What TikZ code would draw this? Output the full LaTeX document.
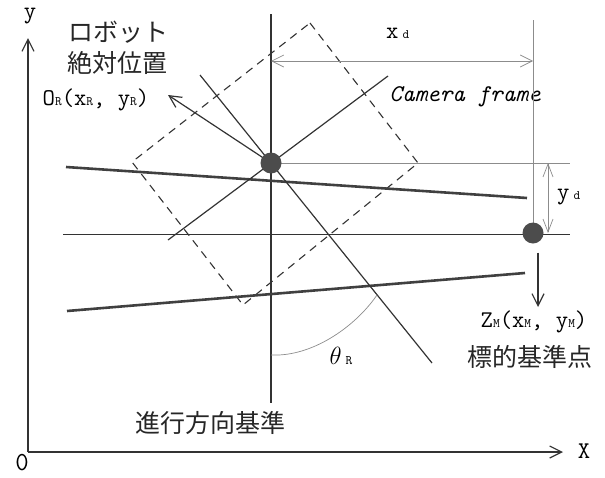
\documentclass[tikz,border=0pt]{standalone}
\usepackage{fontspec}
\newfontfamily\jafont{Noto Sans CJK JP}
\usetikzlibrary{arrows.meta}
\newcommand{\smallidx}[1]{{\fontsize{13}{13}\selectfont #1}}

\begin{document}
\begin{tikzpicture}[x=1pt,y=-1pt,>={Straight Barb[length=12pt,width=12pt]},
  darkline/.style={black!80,line width=1.2pt},
  greyline/.style={black!45,line width=0.7pt},
  lane/.style={black!75,line width=2.6pt},
  dot/.style={circle,fill=black!70,inner sep=0pt,minimum size=21pt},
  ja/.style={font=\jafont\fontsize{25}{28}\selectfont,text=black!85},
  lbl/.style={font=\ttfamily\fontsize{24}{26}\selectfont,text=black,inner sep=1pt},
  axlbl/.style={font=\ttfamily\fontsize{24}{26}\selectfont,text=black,inner sep=1pt}]
  \useasboundingbox (0,0) rectangle (605,477);
  % axes
  \coordinate (o) at (28,452);
  \coordinate (ytip) at (28,38);
  \coordinate (xtip) at (563,452);
  \draw[darkline,->] (o) -- (ytip);
  \draw[darkline,->] (o) -- (xtip);
  \node[axlbl] (ylab) at (30,16) {y};
  \node[axlbl] (xlab) at (584,451) {X};
  \node[axlbl,font=\ttfamily\fontsize{26}{28}\selectfont,inner sep=0pt] (olab) at (22,463) {0};
  % camera frame
  \coordinate (c1) at (310,23);
  \coordinate (c2) at (418,163);
  \coordinate (c3) at (243,305);
  \coordinate (c4) at (132,162);
  \draw[black!80,line width=1.1pt,dash pattern=on 8pt off 6pt] (c1) -- (c2) -- (c3) -- (c4) -- cycle;
  \node[lbl,font=\ttfamily\itshape\fontsize{24}{26}\selectfont] (cam) at (465,97) {Camera frame};
  % reference lines
  \coordinate (vtop) at (271,14);
  \coordinate (vbot) at (271,403);
  \draw[darkline] (vtop) -- (vbot);
  \coordinate (hl) at (63,234);
  \coordinate (hr) at (570,234);
  \draw[darkline,line width=1pt] (hl) -- (hr);
  \coordinate (rr) at (570,163);
  \draw[greyline] (271,163) -- (rr);
  \coordinate (mtop) at (533,20);
  \draw[greyline] (mtop) -- (533,233);
  % lanes
  \coordinate (l1) at (66,167);
  \coordinate (l2) at (527,198);
  \coordinate (l3) at (67,311);
  \coordinate (l4) at (525,273);
  \draw[lane] (l1) -- (l2);
  \draw[lane] (l3) -- (l4);
  % robot axes
  \coordinate (h1) at (200,75);
  \coordinate (h2) at (432,363);
  \draw[darkline] (h1) -- (h2);
  \coordinate (p1) at (168,240);
  \coordinate (p2) at (388,76);
  \draw[darkline] (p1) -- (p2);
  \coordinate (otip) at (168,95);
  \draw[darkline,->] (271,163) -- (otip);
  % heading angle
  \coordinate (t1) at (271,355);
  \coordinate (t2) at (377,295);
  \draw[greyline] (t1) .. controls (312,357) and (355,327) .. (t2);
  \node[lbl] (theta) at (341,356) {$\theta$\,\smallidx{R}};
  % points
  \node[dot] (robot) at (271,163) {};
  \node[dot] (target) at (533,233) {};
  % distances
  \coordinate (xda) at (271,61);
  \coordinate (xdb) at (533,61);
  \draw[greyline,<->] (xda) -- (xdb);
  \node[lbl,anchor=west] (xd) at (385,33) {x\,\smallidx{d}};
  \coordinate (yda) at (548,163);
  \coordinate (ydb) at (548,233);
  \draw[greyline,{Straight Barb[length=13pt,width=10pt]}-{Straight Barb[length=13pt,width=10pt]}] (yda) -- (ydb);
  \node[lbl,anchor=west] (yd) at (556,197) {y\,\smallidx{d}};
  \coordinate (zdown) at (538,307);
  \draw[darkline,->] ([shift={(5,9)}]target.south) -- (zdown);
  % labels
  \node[lbl] (zlab) at (534,322) {Z\smallidx{M}(x\smallidx{M}, y\smallidx{M})};
  \node[ja] (zja) at (530,357) {標的基準点};
  \node[ja] (rja1) at (118,32) {ロボット};
  \node[ja] (rja2) at (117,63) {絶対位置};
  \node[lbl] (orlab) at (96,100) {O\smallidx{R}(x\smallidx{R}, y\smallidx{R})};
  \node[ja] (vja) at (210,423) {進行方向基準};
\end{tikzpicture}
\end{document}
